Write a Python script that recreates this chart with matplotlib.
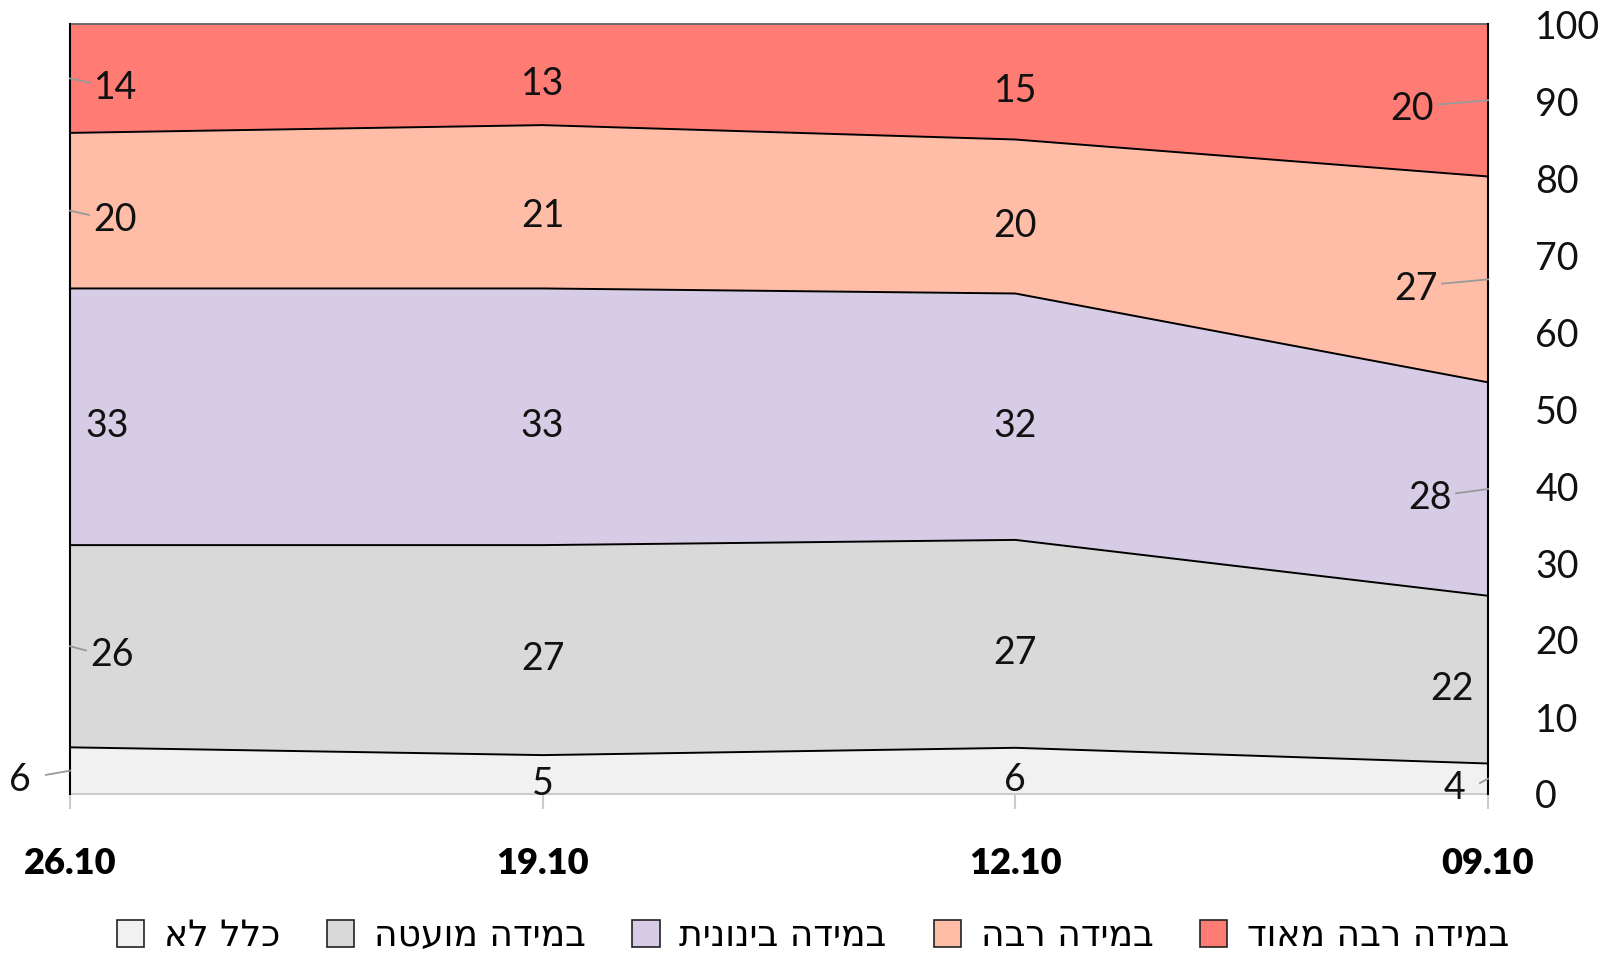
import matplotlib
matplotlib.use("Agg")
import matplotlib.pyplot as plt
import numpy as np
from matplotlib.patches import Patch

dates = ['26.10', '19.10', '12.10', '09.10']
series_names = ['כלל לא', 'במידה מועטה', 'במידה בינונית', 'במידה רבה', 'במידה רבה מאוד']
not_at_all = [6, 5, 6, 4]
small = [26, 27, 27, 22]
medium = [33, 33, 32, 28]
large = [20, 21, 20, 27]
very_large = [14, 13, 15, 20]
yticks = [0, 10, 20, 30, 40, 50, 60, 70, 80, 90, 100]

colors = ['#F1F1F1', '#D9D9D9', '#D7CCE5', '#FFBDA8', '#FF7C75']

data = np.array([not_at_all, small, medium, large, very_large], dtype=float)
norm = data / data.sum(axis=0) * 100
cum = np.vstack([np.zeros(len(dates)), np.cumsum(norm, axis=0)])
x = np.arange(len(dates))

def heb(s):
    return s[::-1]

num_font = ['Lato', 'DejaVu Sans']
plt.rcParams['font.family'] = num_font

W, H = 1604, 955
L, R, T, B = 70, 1488, 24, 794
fig = plt.figure(figsize=(W/100, H/100), dpi=100)
ax = fig.add_axes([L/W, 1-B/H, (R-L)/W, (B-T)/H])

for i in range(len(series_names)):
    ax.fill_between(x, cum[i], cum[i+1], color=colors[i], linewidth=0)
for i in range(1, len(series_names)):
    ax.plot(x, cum[i], color='black', lw=1.4, zorder=3)

ax.set_xlim(0, len(dates)-1)
ax.set_ylim(0, 100)
ax.yaxis.tick_right()
ax.set_yticks(yticks)
ax.set_yticklabels([str(v) for v in yticks], fontsize=27, color='#111')
ax.tick_params(axis='y', length=0, pad=34)
ax.set_xticks(x)
ax.set_xticklabels(dates, fontsize=26, fontweight='heavy')
ax.tick_params(axis='x', length=11, color='#cccccc', width=1.5, pad=27)

for s in ['left', 'right']:
    ax.spines[s].set_color('black')
    ax.spines[s].set_linewidth(1.5)
    ax.spines[s].set_zorder(4)
ax.spines['top'].set_color('#555555')
ax.spines['top'].set_linewidth(1.2)
ax.spines['bottom'].set_color('#cccccc')
ax.spines['bottom'].set_linewidth(1.5)

# label layout offsets (pixels) for edge columns
left_off = [-50, 42, 37, 45, 46]
right_off = [-34, -36, -58, -72, -76]
left_leader = [True, True, False, True, True]
right_leader = [True, False, True, True, True]

trans = ax.transData
inv = ax.transData.inverted()
for j in range(len(dates)):
    for i in range(len(series_names)):
        mid = (cum[i][j] + cum[i+1][j]) / 2
        ylab = mid - 1.2
        if j == 0:
            off = left_off[i]
        elif j == len(dates) - 1:
            off = right_off[i]
        else:
            off = 0
        px, py = trans.transform((x[j], ylab))
        lx, ly = inv.transform((px + off, py))
        ax.text(lx, ly, str(int(data[i][j])), ha='center', va='center',
                fontsize=27, color='#111', zorder=6, clip_on=False)
        if off != 0:
            lead = left_leader[i] if j == 0 else right_leader[i]
            if lead:
                ex, ey = trans.transform((x[j], mid))
                sgn = np.sign(off)
                end_px = px + off - sgn * 26
                a = inv.transform((ex, ey))
                b = inv.transform((end_px, py + 5))
                ax.plot([a[0], b[0]], [a[1], b[1]], color='#999999', lw=1.3,
                        zorder=5, clip_on=False)

handles = [Patch(facecolor=colors[i], edgecolor='#222222', linewidth=1.2) for i in range(len(series_names))]
fig.legend(handles, [heb(s) for s in series_names], loc='center', bbox_to_anchor=(813/W, 1-936/H),
           ncol=5, frameon=False, prop={'family': 'DejaVu Sans', 'size': 26},
           handlelength=0.75, handleheight=0.75, handletextpad=0.55, columnspacing=1.3)

fig.savefig('out.png', dpi=100)
